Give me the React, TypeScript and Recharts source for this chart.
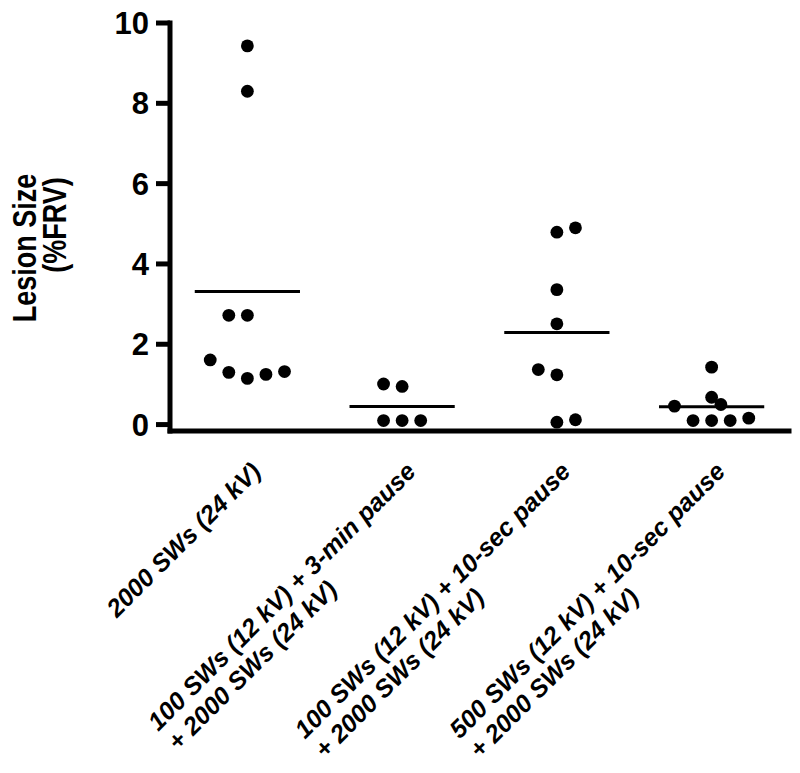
import { ScatterChart, Scatter, XAxis, YAxis, ReferenceLine, Label } from 'recharts'

const GROUPS = [1, 2, 3, 4]
const GROUP_LABELS = [
  ['2000 SWs (24 kV)'],
  ['100 SWs (12 kV) + 3-min pause', '+ 2000 SWs (24 kV)'],
  ['100 SWs (12 kV) + 10-sec pause', '+ 2000 SWs (24 kV)'],
  ['500 SWs (12 kV) + 10-sec pause', '+ 2000 SWs (24 kV)'],
]

// lesion size (%FRV) per animal; slot = horizontal position of the dot in the column
const SIZES_2000 = [9.43, 8.3, 2.72, 2.72, 1.61, 1.3, 1.15, 1.25, 1.32]
const SLOTS_2000 = [0, 0, -1, 0, -2, -1, 0, 1, 2]
const SIZES_3MIN = [1.01, 0.95, 0.1, 0.1, 0.1]
const SLOTS_3MIN = [-1, 0, -1, 0, 1]
const SIZES_10SEC_100 = [4.79, 4.9, 3.36, 2.51, 1.37, 1.24, 0.06, 0.12]
const SLOTS_10SEC_100 = [0, 1, 0, 0, -1, 0, 0, 1]
const SIZES_10SEC_500 = [1.43, 0.68, 0.5, 0.46, 0.1, 0.1, 0.1, 0.16]
const SLOTS_10SEC_500 = [0, 0, 0.5, -2, -1, 0, 1, 2]

const Y_TICKS = [0, 2, 4, 6, 8, 10]

const SIZES = [SIZES_2000, SIZES_3MIN, SIZES_10SEC_100, SIZES_10SEC_500]
const SLOTS = [SLOTS_2000, SLOTS_3MIN, SLOTS_10SEC_100, SLOTS_10SEC_500]

const SLOT_WIDTH = 0.12
const MEAN_HALF = 0.34
const FONT = 'Arial, "Liberation Sans", sans-serif'
const LABEL_SIZE = 25
const LABEL_LINE = 28

const points = GROUPS.flatMap((g, i) =>
  SIZES[i].map((v, j) => ({ x: g + SLOTS[i][j] * SLOT_WIDTH, y: v }))
)
const means = SIZES.map((arr) => arr.reduce((a, b) => a + b, 0) / arr.length)

let ctx: CanvasRenderingContext2D | null = null
function textWidth(s: string) {
  if (!ctx) ctx = document.createElement('canvas').getContext('2d')
  if (!ctx) return s.length * 13
  ctx.font = `italic bold ${LABEL_SIZE}px ${FONT}`
  return ctx.measureText(s).width
}

function GroupTick(props: any) {
  const { x, y, payload } = props
  const lines = GROUP_LABELS[payload.value - 1]
  if (!lines) return null
  const w = textWidth(lines[0])
  return (
    <g transform={`translate(${x + 15},${y + 42}) rotate(-45)`}>
      {lines.map((s, i) => (
        <text
          key={i}
          x={-w}
          y={i * LABEL_LINE}
          textAnchor="start"
          fontFamily={FONT}
          fontSize={LABEL_SIZE}
          fontWeight="bold"
          fontStyle="italic"
          fill="#000"
        >
          {s}
        </text>
      ))}
    </g>
  )
}

function YTitle() {
  const style = { fontFamily: FONT, fontSize: 27, fontWeight: 'bold' as const, fill: '#000' }
  return (
    <g>
      <text transform="translate(36,248) rotate(-90) scale(1,1.25)" textAnchor="middle" {...style}>
        Lesion Size
      </text>
      <text transform="translate(66,225) rotate(-90) scale(1,1.25)" textAnchor="middle" {...style}>
        (%FRV)
      </text>
    </g>
  )
}

export default function App() {
  return (
    <div style={{ position: 'absolute', left: 0, top: 0, width: 800, height: 773, background: '#fff' }}>
      <ScatterChart width={800} height={773} margin={{ top: 23, right: 11, bottom: 0, left: 0 }}>
        <XAxis
          type="number"
          dataKey="x"
          domain={[0.5, 4.5]}
          ticks={GROUPS}
          allowDataOverflow
          height={342}
          axisLine={{ stroke: '#000', strokeWidth: 5, strokeLinecap: 'square' }}
          tickLine={false}
          tickSize={0}
          tickMargin={0}
          tick={<GroupTick />}
        />
        <YAxis
          type="number"
          dataKey="y"
          domain={[-0.16, 10]}
          ticks={Y_TICKS}
          allowDataOverflow
          width={170}
          axisLine={{ stroke: '#000', strokeWidth: 5, strokeLinecap: 'square' }}
          tickLine={{ stroke: '#000', strokeWidth: 5 }}
          tickSize={14}
          tickMargin={7}
          tick={{ fontFamily: FONT, fontSize: 31, fontWeight: 'bold', fill: '#000' }}
        >
          <Label content={<YTitle />} />
        </YAxis>
        {GROUPS.map((g, i) => (
          <ReferenceLine
            key={g}
            segment={[
              { x: g - MEAN_HALF, y: means[i] },
              { x: g + MEAN_HALF, y: means[i] },
            ]}
            stroke="#000"
            strokeWidth={3}
          />
        ))}
        <Scatter
          data={points}
          isAnimationActive={false}
          shape={(p: any) => <circle cx={p.cx} cy={p.cy} r={6.4} fill="#000" />}
        />
      </ScatterChart>
    </div>
  )
}
